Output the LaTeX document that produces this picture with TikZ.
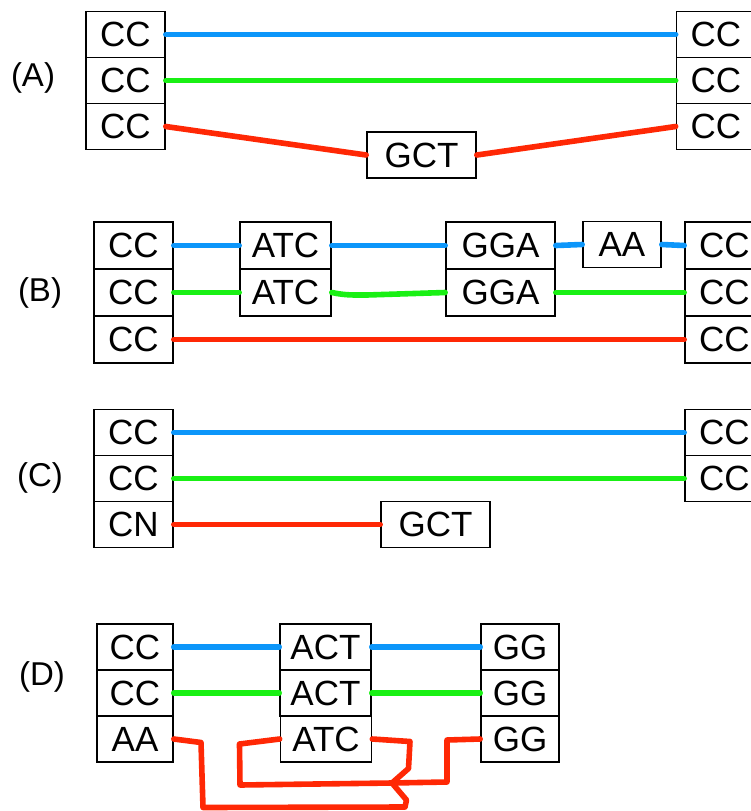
\documentclass[tikz,border=0pt]{standalone}
\usepackage{fontspec}
\setmainfont{Liberation Sans}
\usepackage{xcolor}
\definecolor{seqblue}{RGB}{12,150,250}
\definecolor{seqgreen}{RGB}{25,240,20}
\definecolor{seqred}{RGB}{255,40,5}
\usepackage{tikz}
\usetikzlibrary{positioning}

\begin{document}
\begin{tikzpicture}[
  x=0.5pt, y=-0.5pt,
  cell/.style={draw, line width=0.8pt, inner sep=0pt, minimum height=23pt,
               font=\fontsize{17.5}{20}\selectfont},
  cellS/.style={cell, minimum width=39.5pt},
  cellM/.style={cell, minimum width=45.5pt},
  cellL/.style={cell, minimum width=54.5pt},
  tall/.style={minimum height=23.5pt},
  panel/.style={font=\fontsize{16.5}{20}\selectfont},
  strand/.style={line width=2.8pt, line cap=round, line join=round}
]
\useasboundingbox (0,0) rectangle (751,811);

% --- Panel A ---
\node[panel] (labA) at (33,78) {(A)};
\node[cellS] (leftA1) at (125.5,34.5) {CC};
\node[cellS] (leftA2) at (125.5,80.5) {CC};
\node[cellS] (leftA3) at (125.5,126.5) {CC};
\node[cellS] (rightA1) at (716,34.5) {CC};
\node[cellS] (rightA2) at (716,80.5) {CC};
\node[cellS] (rightA3) at (716,126.5) {CC};
\node[cellL] (gctA) at (421.5,155) {GCT};

\draw[strand, seqblue] (leftA1.east) -- (rightA1.west);
\draw[strand, seqgreen] (leftA2.east) -- (rightA2.west);
\draw[strand, seqred] (leftA3.east) -- (gctA.west);
\draw[strand, seqred] (gctA.east) -- (rightA3.west);

% --- Panel B ---
\node[panel] (labB) at (40,293) {(B)};
\node[cellS, tall] (leftB1) at (133.5,245.5) {CC};
\node[cellS, tall] (leftB2) at (133.5,292.5) {CC};
\node[cellS, tall] (leftB3) at (133.5,339.5) {CC};
\node[cellM, tall] (atcB1) at (285.5,245.5) {ATC};
\node[cellM, tall] (atcB2) at (285.5,292.5) {ATC};
\node[cellL, tall] (ggaB1) at (500.5,245.5) {GGA};
\node[cellL, tall] (ggaB2) at (500.5,292.5) {GGA};
\node[cellS, minimum width=39pt] (aaB) at (622,244.5) {AA};
\node[cellS, tall] (rightB1) at (724.5,245.5) {CC};
\node[cellS, tall] (rightB2) at (724.5,292.5) {CC};
\node[cellS, tall] (rightB3) at (724.5,339.5) {CC};

\draw[strand, seqblue] (leftB1.east) -- (atcB1.west);
\draw[strand, seqblue] (atcB1.east) -- (ggaB1.west);
\draw[strand, seqblue] (ggaB1.east) -- (aaB.west);
\draw[strand, seqblue] (aaB.east) -- (rightB1.west);
\draw[strand, seqgreen] (leftB2.east) -- (atcB2.west);
\draw[strand, seqgreen] (atcB2.east) to[out=-12, in=180] ++(35,2.5) -- (ggaB2.west);
\draw[strand, seqgreen] (ggaB2.east) -- (rightB2.west);
\draw[strand, seqred] (leftB3.east) -- (rightB3.west);

% --- Panel C ---
\node[panel] (labC) at (40,478) {(C)};
\node[cellS] (leftC1) at (133.5,432.5) {CC};
\node[cellS] (leftC2) at (133.5,478.5) {CC};
\node[cellS] (leftC3) at (133.5,524.5) {CN};
\node[cellS] (rightC1) at (724.5,432.5) {CC};
\node[cellS] (rightC2) at (724.5,478.5) {CC};
\node[cellL] (gctC) at (435.5,524.5) {GCT};

\draw[strand, seqblue] (leftC1.east) -- (rightC1.west);
\draw[strand, seqgreen] (leftC2.east) -- (rightC2.west);
\draw[strand, seqred] (leftC3.east) -- (gctC.west);

% --- Panel D ---
\node[panel] (labD) at (42,677) {(D)};
\node[cellS, minimum width=38pt] (leftD1) at (135,647) {CC};
\node[cellS, minimum width=38pt] (leftD2) at (135,693) {CC};
\node[cellS, minimum width=38pt] (leftD3) at (135,739) {AA};
\node[cellM] (actD1) at (325.5,647) {ACT};
\node[cellM] (actD2) at (325.5,693) {ACT};
\node[cellM] (atcD3) at (326,739) {ATC};
\node[cellS, minimum width=39pt] (ggD1) at (520,647) {GG};
\node[cellS, minimum width=39pt] (ggD2) at (520,693) {GG};
\node[cellS, minimum width=39pt] (ggD3) at (520,739) {GG};

\draw[strand, seqblue] (leftD1.east) -- (actD1.west);
\draw[strand, seqblue] (actD1.east) -- (ggD1.west);
\draw[strand, seqgreen] (leftD2.east) -- (actD2.west);
\draw[strand, seqgreen] (actD2.east) -- (ggD2.west);

% Red strands wrap round underneath
\draw[strand, seqred] (leftD3.east) -- (201,742.5) -- (203,807.5) -- (405,807)
  -- (406.5,800) -- (392,783) -- (447,782) -- (447,740) -- (ggD3.west);
\draw[strand, seqred] (atcD3.east) -- (410,741.5) -- (408.5,768.5) -- (392,783)
  -- (240,785) -- (239.5,744) -- (atcD3.west);

\end{tikzpicture}
\end{document}
